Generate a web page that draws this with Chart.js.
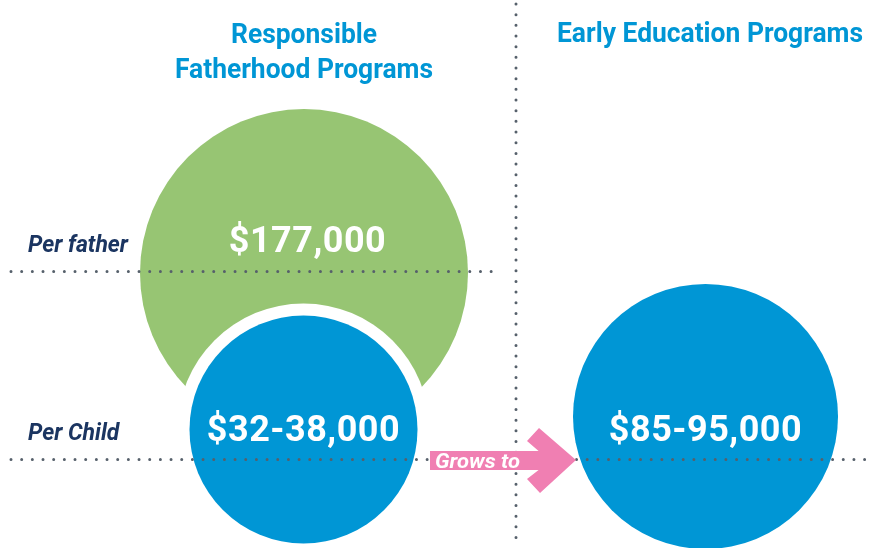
<!DOCTYPE html>
<html>
<head>
<meta charset="utf-8">
<script src="https://cdn.jsdelivr.net/npm/chart.js@4.4.1/dist/chart.umd.min.js"></script>
<style>
  html, body { margin: 0; padding: 0; background: #fff; }
  #wrap { width: 874px; height: 548px; position: relative; }
</style>
</head>
<body>
<div id="wrap"><canvas id="myChart"></canvas></div>
<script>
// data
const programs = ['Responsible\nFatherhood Programs', 'Early Education Programs'];
const rowLabels = ['Per father', 'Per Child'];
const valueLabels = ['$177,000', '$32-38,000', '$85-95,000'];
const valueLow = [177000, 32000, 85000];
const valueHigh = [177000, 38000, 95000];
const arrowLabel = 'Grows to';

// layout (in the page's pixel units, scales run 0..874 and 0..548)
const bubbleSpots = [
  {x: 304, y: 273, r: 164},
  {x: 303.5, y: 429.5, r: 114},
  {x: 705.5, y: 416.5, r: 132.5}
];
const ringWidth = 12;
const rowLineY = [271.5, 459.5];
const rowLineEnd = [492, 872];
const dividerX = 516;

const GREEN = '#97c573';
const BLUE = '#0096d5';
const PINK = '#f07fb2';
const NAVY = '#1b3561';
const DOTS = '#56606b';

const dotted = (pts) => ({
  type: 'line',
  data: pts,
  borderColor: DOTS,
  borderWidth: 3,
  borderDash: [0, 10.67],
  borderCapStyle: 'round',
  pointRadius: 0,
  fill: false,
  order: 1,
  clip: false
});

const bubble = (i, color, r, order) => ({
  type: 'bubble',
  label: valueLabels[i],
  data: [{x: bubbleSpots[i].x, y: bubbleSpots[i].y, r: r, low: valueLow[i], high: valueHigh[i]}],
  backgroundColor: color,
  borderWidth: 0,
  hoverRadius: 0,
  order: order,
  clip: false
});

// condensed look: squeeze text horizontally
function squeezed(ctx, text, x, y, sx) {
  ctx.save();
  ctx.translate(x, y);
  ctx.scale(sx, 1);
  ctx.fillText(text, 0, 0);
  ctx.restore();
}

const labelPlugin = {
  id: 'labels',
  afterDatasetsDraw(chart) {
    const {ctx, scales: {x, y}} = chart;
    const px = v => x.getPixelForValue(v);
    const py = v => y.getPixelForValue(v);
    ctx.save();

    // arrow
    ctx.fillStyle = PINK;
    ctx.beginPath();
    const arrow = [[430,451],[538.6,451],[527,441],[539,428],[576,460],[540,493],[527,479],[538.6,470],[430,470]];
    arrow.forEach((p, k) => k ? ctx.lineTo(px(p[0]), py(p[1])) : ctx.moveTo(px(p[0]), py(p[1])));
    ctx.closePath();
    ctx.fill();

    ctx.textBaseline = 'alphabetic';

    // titles
    ctx.textAlign = 'center';
    ctx.fillStyle = BLUE;
    ctx.font = 'bold 28px Roboto, sans-serif';
    const t1 = programs[0].split('\n');
    let sx = 258 / ctx.measureText(t1[1]).width;
    squeezed(ctx, t1[0], px(304), py(43), sx);
    squeezed(ctx, t1[1], px(304), py(78), sx);
    squeezed(ctx, programs[1], px(710), py(42), sx);

    // row labels
    ctx.fillStyle = NAVY;
    ctx.textAlign = 'left';
    ctx.font = 'italic bold 24px Roboto, sans-serif';
    sx = 100 / ctx.measureText(rowLabels[0]).width;
    squeezed(ctx, rowLabels[0], px(28), py(252), sx);
    squeezed(ctx, rowLabels[1], px(28), py(440), sx);

    // arrow label
    ctx.fillStyle = '#fff';
    ctx.font = 'italic bold 21px Roboto, sans-serif';
    sx = 85 / ctx.measureText(arrowLabel).width;
    squeezed(ctx, arrowLabel, px(435), py(468), sx);

    // values in bubbles
    ctx.textAlign = 'center';
    ctx.font = 'bold 36px Roboto, sans-serif';
    ctx.letterSpacing = '0.5px';
    const base = [252, 441, 441];
    const shift = [3.5, 0, 0];
    const ids = [0, 2, 3];
    ids.forEach((d, i) => {
      const el = chart.getDatasetMeta(d).data[0];
      ctx.fillText(valueLabels[i], el.x + shift[i], py(base[i]));
    });
    ctx.restore();
  }
};

const chart = new Chart(document.getElementById('myChart'), {
  type: 'bubble',
  data: {
    datasets: [
      bubble(0, GREEN, bubbleSpots[0].r, 5),
      {...bubble(1, '#ffffff', bubbleSpots[1].r + ringWidth, 4), label: 'ring'},
      bubble(1, BLUE, bubbleSpots[1].r, 3),
      bubble(2, BLUE, bubbleSpots[2].r, 3),
      dotted([{x: 11, y: rowLineY[0]}, {x: rowLineEnd[0], y: rowLineY[0]}]),
      dotted([{x: 11, y: rowLineY[1]}, {x: rowLineEnd[1], y: rowLineY[1]}]),
      dotted([{x: dividerX, y: 4}, {x: dividerX, y: 548}])
    ]
  },
  options: {
    responsive: true,
    maintainAspectRatio: false,
    animation: false,
    events: [],
    layout: {padding: 0, autoPadding: false},
    scales: {
      x: {type: 'linear', min: 0, max: 874, display: false},
      y: {type: 'linear', min: 0, max: 548, reverse: true, display: false}
    },
    plugins: {
      legend: {display: false},
      tooltip: {enabled: false}
    }
  },
  plugins: [labelPlugin]
});
</script>
</body>
</html>
